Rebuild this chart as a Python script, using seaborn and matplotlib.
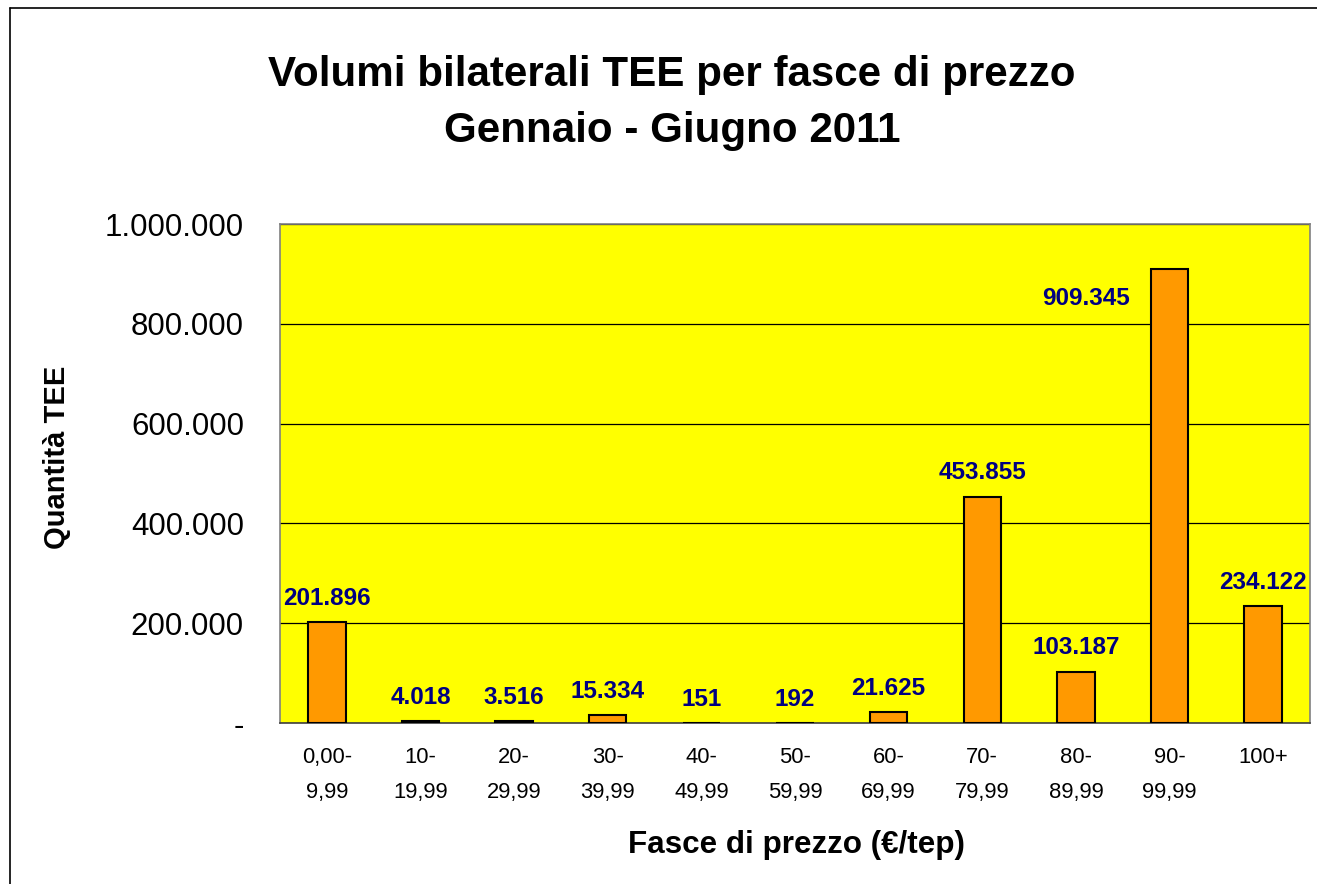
import matplotlib
matplotlib.use("Agg")
import matplotlib.pyplot as plt
import seaborn as sns
import pandas as pd
from matplotlib.ticker import FuncFormatter, FixedLocator
from matplotlib.lines import Line2D

categories = ["0,00-\n9,99", "10-\n19,99", "20-\n29,99", "30-\n39,99", "40-\n49,99",
              "50-\n59,99", "60-\n69,99", "70-\n79,99", "80-\n89,99", "90-\n99,99", "100+"]
values = [201896, 4018, 3516, 15334, 151, 192, 21625, 453855, 103187, 909345, 234122]
value_labels = ["201.896", "4.018", "3.516", "15.334", "151", "192", "21.625",
                "453.855", "103.187", "909.345", "234.122"]
y_ticks = [0, 200000, 400000, 600000, 800000, 1000000]

title = "Volumi bilaterali TEE per fasce di prezzo\nGennaio - Giugno 2011"
x_title = "Fasce di prezzo (€/tep)"
y_title = "Quantità TEE"

sns.set_style("white")
plt.rcParams['font.family'] = ['Liberation Sans', 'DejaVu Sans']
plt.rcParams['text.color'] = 'black'
plt.rcParams['xtick.color'] = 'black'
plt.rcParams['ytick.color'] = 'black'
plt.rcParams['axes.labelcolor'] = 'black'

W, H = 1317, 884
fig = plt.figure(figsize=(W / 100, H / 100), dpi=100)
ax = fig.add_axes([280 / W, 1 - 723 / H, (1310 - 280) / W, (723 - 224) / H])

df = pd.DataFrame({"cat": categories, "val": values})
sns.barplot(data=df, x="cat", y="val", color="#FF9900", width=0.4,
            edgecolor="black", linewidth=1.5, saturation=1, ax=ax, zorder=3)

ax.set_facecolor("#FFFF00")
ax.set_ylim(0, 1000000)
ax.set_xlim(-0.5, len(categories) - 0.5)
ax.yaxis.set_major_locator(FixedLocator(y_ticks))


def fmt(v, pos):
    if v == 0:
        return "-"
    return f"{int(v):,}".replace(",", ".")


ax.yaxis.set_major_formatter(FuncFormatter(fmt))
ax.grid(axis="y", color="black", linewidth=0.9, zorder=0)
ax.set_axisbelow(True)

for s in ["left", "right", "top"]:
    ax.spines[s].set_color("#808080")
    ax.spines[s].set_linewidth(1.2)
ax.spines["bottom"].set_color("#404040")
ax.spines["bottom"].set_linewidth(1.2)

# x ticks between categories
ax.set_xticks(range(len(categories)))
ax.set_xticklabels(categories, fontsize=15.8, linespacing=1.9)
ax.tick_params(axis="x", which="major", length=0, pad=17)
minor = [i - 0.5 for i in range(len(categories) + 1)]
ax.set_xticks(minor, minor=True)
ax.tick_params(axis="x", which="minor", length=7, width=1, color="#404040", direction="out")
ax.tick_params(axis="y", length=7, width=1, color="#404040", direction="out", labelsize=22.5, pad=19)
ax.set_xlabel("")
ax.set_ylabel("")

for i, (v, lab) in enumerate(zip(values, value_labels)):
    if i == 9:
        off = (-60, -21)
    else:
        off = (0, 17)
    ax.annotate(lab, (i, v), xytext=off, textcoords="offset points", ha="center", va="center",
                fontsize=17.5, fontweight="bold", color="#000080", zorder=5)

fig.text(672 / W, 1 - 103 / H, title, ha="center", va="center", fontsize=30.3,
         fontweight="bold", linespacing=1.5)
fig.text(797 / W, 1 - 845 / H, x_title, ha="center", va="center", fontsize=22.6, fontweight="bold")
fig.text(57 / W, 1 - 457 / H, y_title, ha="center", va="center", fontsize=21,
         fontweight="bold", rotation=90)

# outer chart border
fig.add_artist(Line2D([10 / W, 10 / W], [0, 1 - 8 / H], color="black", linewidth=1.2))
fig.add_artist(Line2D([10 / W, 1], [1 - 8 / H, 1 - 8 / H], color="black", linewidth=1.2))

fig.savefig("out.png", dpi=100, facecolor="white")
